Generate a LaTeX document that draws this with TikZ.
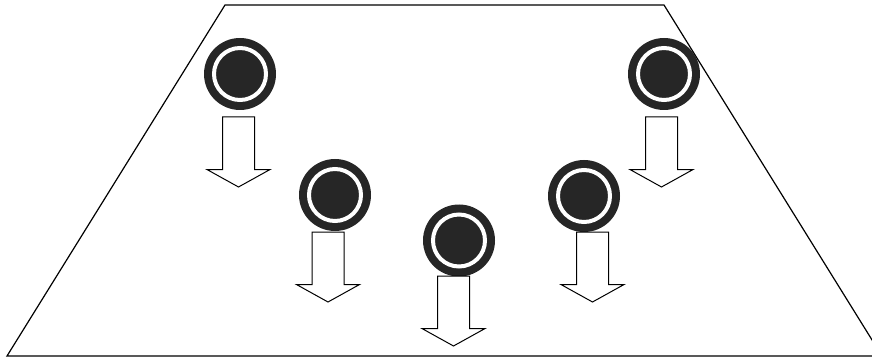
\documentclass[tikz,border=0pt]{standalone}
\usepackage{tikz}
\usetikzlibrary{shapes.arrows, positioning, calc}

\begin{document}
\begin{tikzpicture}[
			x=1pt, y=1pt,
			frame/.style={draw, line width=1.2pt},
			hole/.style={circle, fill=black!85, minimum size=72pt, inner sep=0pt,
				path picture={\draw[white, line width=4pt] (path picture bounding box.center) circle (26pt);}},
			flow/.style={draw, line width=1pt, fill=white, single arrow, shape border rotate=270,
				inner sep=15.5pt, minimum height=70pt, single arrow head extend=15.5pt,
				single arrow tip angle=122, single arrow head indent=0pt, anchor=tail, outer sep=0pt}
			]
			% --- Ramka ---
			\clip (0,0) rectangle (872,359);
			\useasboundingbox (0,0) rectangle (872,359);
			\draw[frame] (225,354) -- (664,354) -- (882,3) -- (7,3) -- cycle;
			
			% --- Otwory ---
			\node[hole] (hole1) at (240,285) {};
			\node[hole] (hole2) at (335,164) {};
			\node[hole] (hole3) at (459,118.5) {};
			\node[hole] (hole4) at (584,163) {};
			\node[hole] (hole5) at (664,285) {};
			
			% --- Strzalki przeplywu ---
			\node[flow] (flow1) at (238.5,242) {};
			\node[flow] (flow2) at (328,127) {};
			\node[flow] (flow3) at (453.5,83) {};
			\node[flow] (flow4) at (592.5,127) {};
			\node[flow] (flow5) at (661.5,242) {};
			
		\end{tikzpicture}
\end{document}
